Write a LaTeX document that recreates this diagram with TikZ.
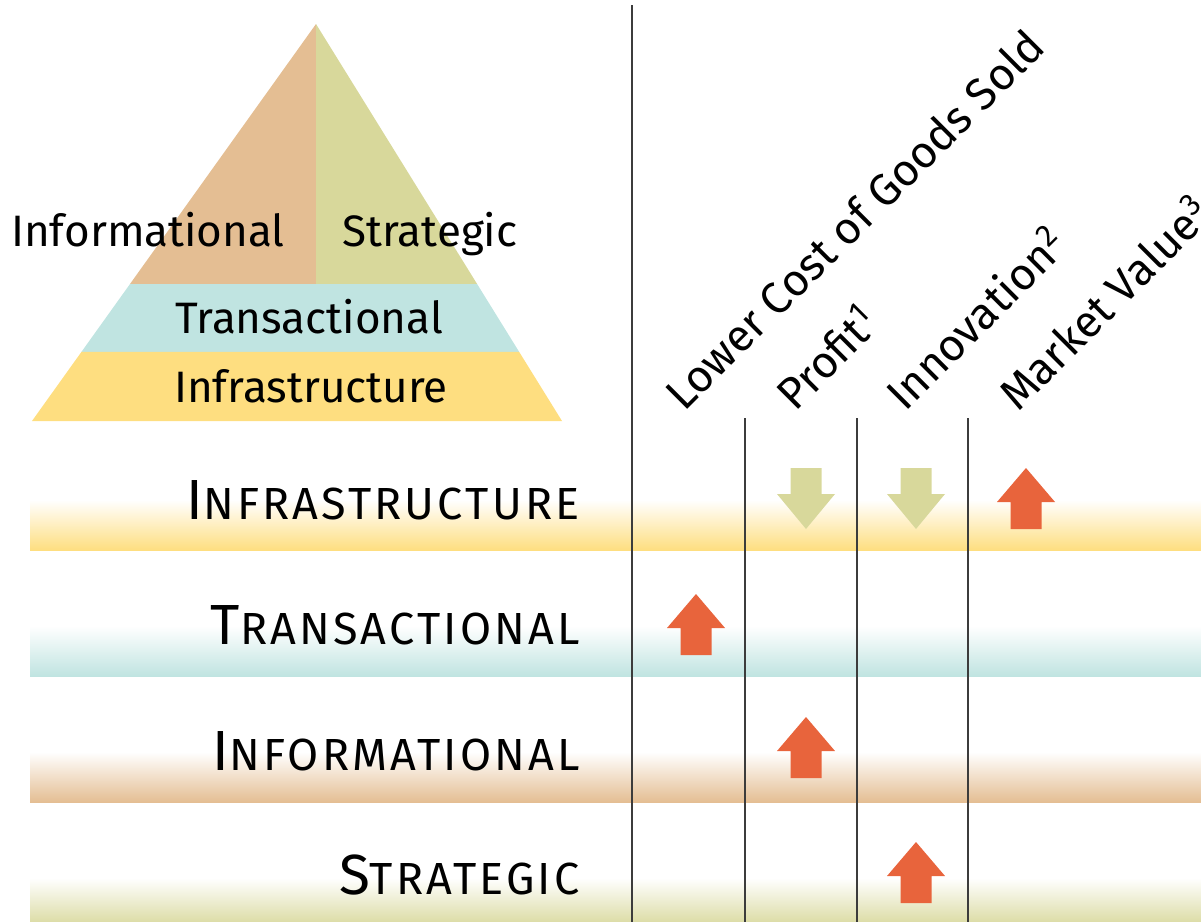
\documentclass[tikz,border=0pt]{standalone}
\usepackage{fontspec}
\setmainfont{Fira Sans}
\usetikzlibrary{calc}

\definecolor{infra}{RGB}{254,222,128}
\definecolor{trans}{RGB}{192,228,225}
\definecolor{inform}{RGB}{228,190,147}
\definecolor{strat}{RGB}{216,216,155}
\definecolor{uparr}{RGB}{232,100,60}
\definecolor{rule}{RGB}{60,60,60}

\newcommand\rowcaps[2]{{\addfontfeatures{LetterSpace=7}%
  \fontsize{28.3}{30}\selectfont #1\fontsize{22.5}{24}\selectfont #2}}

\tikzset{
  pyrlabel/.style={anchor=base, font=\fontsize{22}{24}\selectfont, inner sep=0pt},
  rowlabel/.style={anchor=base east, inner sep=0pt},
  collabel/.style={anchor=base west, rotate=45, inner sep=0pt, font=\fontsize{22.3}{24}\selectfont},
  colline/.style={draw=rule, line width=0.65pt},
  arrowup/.style={fill=uparr},
  arrowdown/.style={fill=strat}
}

\begin{document}
\begin{tikzpicture}[x=0.5pt,y=-0.5pt]
  \useasboundingbox (0,0) rectangle (1201,922);
  \clip (0,0) rectangle (1201,922);

  % bands behind the rows
  \foreach \c/\y in {infra/550,trans/676,inform/802,strat/928}
  \shade[top color=white, bottom color=\c] (30,\y-50) rectangle (1201,\y);

  % the pyramid
  \coordinate (apex) at (316,24);
  \coordinate (bl) at (32,421);
  \coordinate (br) at (562,421);
  \coordinate (l1) at ($(apex)!0.655!(bl)$);
  \coordinate (r1) at ($(apex)!0.655!(br)$);
  \coordinate (l2) at ($(apex)!0.826!(bl)$);
  \coordinate (r2) at ($(apex)!0.826!(br)$);
  \coordinate (mid) at (316,284);
  \fill[inform] (apex) -- (mid) -- (l1) -- cycle;
  \fill[strat] (apex) -- (r1) -- (mid) -- cycle;
  \fill[trans] (l1) -- (r1) -- (r2) -- (l2) -- cycle;
  \fill[infra] (l2) -- (r2) -- (br) -- (bl) -- cycle;

  \node[pyrlabel] (pinform) at (148,246) {Informational};
  \node[pyrlabel] (pstrat) at (430,246) {Strategic};
  \node[pyrlabel] (ptrans) at (309,333) {Transactional};
  \node[pyrlabel] (pinfra) at (311,402) {Infrastructure};

  % column rules
  \draw[colline] (632,5) -- (632,922);
  \foreach \x in {745,857,968}
  \draw[colline] (\x,418) -- (\x,922);

  % column heads
  \node[collabel] (hcost) at (684,413) {Lower Cost of Goods Sold};
  \node[collabel] (hprofit) at (795,413) {Profit\textsuperscript{1}};
  \node[collabel] (hinno) at (905,413) {Innovation\textsuperscript{2}};
  \node[collabel] (hmarket) at (1018,413) {Market Value\textsuperscript{3}};

  % row heads
  \node[rowlabel] (rinfra) at (580,519) {\rowcaps{I}{NFRASTRUCTURE}};
  \node[rowlabel] (rtrans) at (580,644) {\rowcaps{T}{RANSACTIONAL}};
  \node[rowlabel] (rinform) at (580,770) {\rowcaps{I}{NFORMATIONAL}};
  \node[rowlabel] (rstrat) at (580,894) {\rowcaps{S}{TRATEGIC}};

  % arrows up
  \foreach \x/\y in {1026/468,696/594,806/717,916/842}
  \fill[arrowup, shift={(\x,\y)}] (0,0) -- (29,34) -- (15.5,34) -- (15.5,61)
    -- (-15.5,61) -- (-15.5,34) -- (-29,34) -- cycle;

  % arrows down
  \foreach \x in {806,916}
  \fill[arrowdown, shift={(\x,468)}] (-15.5,0) -- (15.5,0) -- (15.5,26) -- (29,26)
    -- (0,61) -- (-29,26) -- (-15.5,26) -- cycle;

\end{tikzpicture}
\end{document}
